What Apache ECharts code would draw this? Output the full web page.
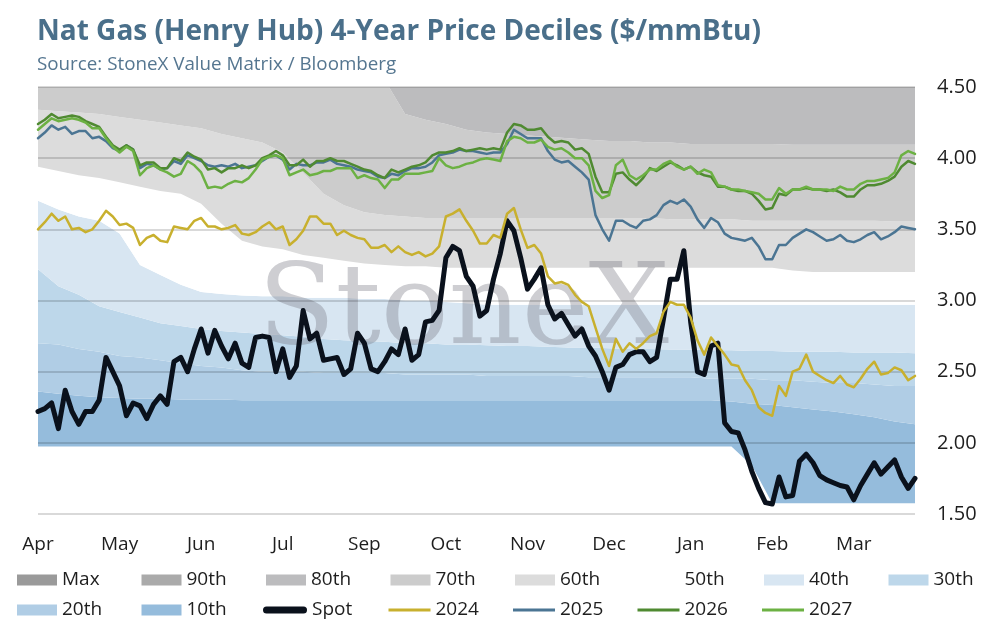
<!DOCTYPE html>
<html><head><meta charset="utf-8">
<script src="https://cdn.jsdelivr.net/npm/echarts@6/dist/echarts.min.js"></script>
<style>html,body{margin:0;padding:0;background:#fff}#c{width:995px;height:625px}</style>
</head><body><div id="c"></div>
<script>
const monthLabels = ['Apr','May','Jun','Jul','Sep','Oct','Nov','Dec','Jan','Feb','Mar'];

const spot = [2.22,2.24,2.28,2.10,2.37,2.22,2.13,2.22,2.22,2.30,
2.60,2.50,2.40,2.19,2.28,2.26,2.17,2.27,2.33,2.27,
2.57,2.60,2.50,2.66,2.80,2.63,2.79,2.68,2.59,2.70,
2.56,2.53,2.74,2.75,2.74,2.50,2.66,2.46,2.54,2.93,
2.73,2.77,2.58,2.59,2.60,2.48,2.52,2.77,2.70,2.52,
2.50,2.57,2.66,2.62,2.80,2.58,2.62,2.85,2.86,2.93,
3.30,3.38,3.35,3.17,3.10,2.89,2.93,3.15,3.33,3.56,
3.49,3.30,3.08,3.15,3.23,2.97,2.87,2.91,2.83,2.75,
2.80,2.68,2.61,2.50,2.37,2.53,2.55,2.62,2.64,2.64,
2.57,2.60,2.87,3.15,3.15,3.35,2.85,2.50,2.48,2.68,
2.70,2.14,2.08,2.07,1.95,1.80,1.68,1.58,1.57,1.76,
1.62,1.63,1.87,1.92,1.86,1.77,1.74,1.72,1.70,1.69,
1.60,1.70,1.78,1.86,1.78,1.83,1.88,1.76,1.68,1.75];

const y2024 = [3.50,3.55,3.61,3.56,3.59,3.50,3.51,3.48,3.50,3.56,
3.63,3.59,3.53,3.54,3.51,3.39,3.44,3.46,3.42,3.41,
3.52,3.51,3.50,3.56,3.58,3.52,3.52,3.50,3.51,3.53,
3.47,3.46,3.48,3.52,3.55,3.50,3.52,3.39,3.43,3.49,
3.59,3.59,3.54,3.54,3.46,3.49,3.46,3.44,3.43,3.37,
3.37,3.39,3.34,3.38,3.34,3.32,3.34,3.31,3.33,3.38,
3.59,3.61,3.64,3.56,3.49,3.40,3.40,3.46,3.44,3.61,
3.65,3.50,3.37,3.39,3.33,3.17,3.12,3.13,3.11,3.04,
2.99,2.96,2.81,2.66,2.54,2.73,2.64,2.70,2.66,2.70,
2.75,2.77,2.92,2.99,2.97,2.97,2.88,2.72,2.62,2.74,
2.68,2.62,2.55,2.54,2.44,2.37,2.25,2.21,2.19,2.40,
2.33,2.50,2.52,2.62,2.50,2.47,2.44,2.42,2.47,2.41,
2.39,2.45,2.52,2.57,2.48,2.49,2.53,2.51,2.44,2.47];

const y2025 = [4.14,4.18,4.23,4.20,4.22,4.17,4.19,4.19,4.14,4.15,
4.12,4.07,4.05,4.09,4.06,3.93,3.96,3.95,3.92,3.93,
3.98,3.96,4.02,4.00,3.98,3.95,3.94,3.95,3.94,3.96,
3.93,3.94,3.95,3.98,4.01,4.02,3.99,3.92,3.96,3.95,
3.95,3.97,3.97,3.99,3.96,3.95,3.94,3.92,3.91,3.90,
3.87,3.86,3.89,3.88,3.91,3.93,3.93,3.94,3.97,4.02,
4.03,4.04,4.06,4.05,4.05,4.04,4.03,4.04,4.04,4.10,
4.20,4.17,4.14,4.14,4.14,4.05,3.99,3.97,3.98,3.94,
3.90,3.85,3.60,3.50,3.42,3.56,3.56,3.53,3.51,3.56,
3.57,3.60,3.67,3.70,3.68,3.71,3.66,3.57,3.51,3.58,
3.55,3.47,3.44,3.43,3.42,3.44,3.38,3.29,3.29,3.39,
3.39,3.44,3.47,3.50,3.48,3.45,3.42,3.43,3.46,3.42,
3.41,3.43,3.46,3.48,3.43,3.45,3.48,3.52,3.51,3.50];

const y2026 = [4.24,4.27,4.31,4.28,4.29,4.30,4.29,4.26,4.24,4.22,
4.15,4.09,4.06,4.09,4.06,3.95,3.97,3.97,3.93,3.93,
4.00,3.98,4.04,4.01,3.99,3.92,3.93,3.90,3.93,3.93,
3.95,3.93,3.95,4.00,4.02,4.05,4.02,3.95,3.95,3.99,
3.94,3.98,3.98,4.00,3.98,3.98,3.96,3.94,3.92,3.91,
3.88,3.86,3.92,3.90,3.92,3.94,3.95,3.97,4.02,4.04,
4.04,4.05,4.07,4.05,4.06,4.07,4.06,4.07,4.06,4.18,
4.24,4.23,4.20,4.20,4.21,4.15,4.11,4.12,4.11,4.06,
4.07,4.03,3.87,3.76,3.76,3.89,3.90,3.85,3.81,3.86,
3.93,3.91,3.94,3.97,3.95,3.92,3.94,3.90,3.88,3.87,
3.80,3.80,3.78,3.77,3.77,3.75,3.70,3.64,3.65,3.75,
3.74,3.78,3.78,3.79,3.78,3.78,3.77,3.78,3.76,3.73,
3.73,3.78,3.81,3.81,3.82,3.84,3.87,3.94,3.98,3.96];

const y2027 = [4.20,4.24,4.28,4.26,4.27,4.28,4.27,4.25,4.21,4.21,
4.14,4.08,4.04,4.08,4.05,3.88,3.93,3.95,3.92,3.90,
3.87,3.89,3.98,3.95,3.90,3.79,3.80,3.79,3.82,3.84,
3.83,3.86,3.92,3.99,4.01,4.02,4.00,3.88,3.90,3.92,
3.88,3.89,3.91,3.91,3.93,3.93,3.93,3.86,3.88,3.86,
3.85,3.79,3.85,3.85,3.89,3.89,3.89,3.90,3.91,4.00,
3.95,3.93,3.94,3.96,3.97,3.99,4.00,3.99,3.98,4.12,
4.15,4.14,4.11,4.11,4.13,4.08,4.06,4.07,4.04,4.00,
4.00,3.95,3.77,3.72,3.74,3.95,3.99,3.88,3.85,3.88,
3.92,3.92,3.96,3.98,3.94,3.92,3.94,3.89,3.92,3.90,
3.81,3.80,3.78,3.78,3.77,3.76,3.75,3.71,3.71,3.79,
3.75,3.78,3.78,3.80,3.78,3.78,3.78,3.77,3.80,3.78,
3.78,3.82,3.84,3.84,3.85,3.86,3.90,4.02,4.05,4.03];

// decile boundaries (sampled every 3rd trading day)
const bandMin = [1.975,1.975,1.975,1.975,1.975,1.975,1.975,1.975,1.975,1.975,
1.975,1.975,1.975,1.975,1.975,1.975,1.975,1.975,1.975,1.975,
1.975,1.975,1.975,1.975,1.975,1.975,1.975,1.975,1.975,1.975,
1.975,1.975,1.975,1.975,1.975,1.84,1.575,1.575,1.575,1.575,
1.575,1.575,1.575,1.575];
const p10 = [2.36,2.345,2.33,2.32,2.315,2.31,2.31,2.305,2.305,2.305,
2.30,2.30,2.30,2.30,2.30,2.30,2.30,2.30,2.30,2.30,
2.30,2.30,2.30,2.30,2.30,2.30,2.30,2.30,2.30,2.30,
2.30,2.30,2.30,2.30,2.29,2.275,2.265,2.25,2.235,2.22,
2.20,2.18,2.15,2.13];
const p20 = [2.70,2.69,2.66,2.64,2.61,2.60,2.58,2.56,2.54,2.53,
2.51,2.50,2.50,2.50,2.49,2.49,2.49,2.49,2.48,2.48,
2.48,2.48,2.47,2.47,2.47,2.47,2.47,2.46,2.46,2.46,
2.46,2.46,2.46,2.45,2.45,2.45,2.44,2.44,2.43,2.42,
2.42,2.41,2.40,2.40];
const p30 = [3.22,3.10,3.04,2.96,2.92,2.88,2.84,2.82,2.80,2.785,
2.775,2.765,2.755,2.745,2.73,2.72,2.715,2.71,2.70,2.70,
2.69,2.69,2.685,2.68,2.68,2.675,2.67,2.67,2.665,2.66,
2.66,2.655,2.655,2.65,2.65,2.645,2.645,2.64,2.64,2.64,
2.635,2.635,2.635,2.63];
const p40 = [3.70,3.64,3.59,3.56,3.47,3.25,3.18,3.11,3.06,3.045,
3.035,3.03,3.03,3.02,3.02,3.02,3.01,3.01,3.00,3.00,
2.99,2.98,2.97,2.97,2.97,2.97,2.97,2.97,2.97,2.97,
2.97,2.97,2.97,2.97,2.97,2.97,2.97,2.97,2.97,2.97,
2.97,2.97,2.97,2.97];
const p50 = [3.94,3.91,3.88,3.86,3.83,3.80,3.77,3.75,3.68,3.54,
3.42,3.38,3.36,3.32,3.30,3.28,3.26,3.25,3.24,3.24,
3.23,3.23,3.23,3.23,3.23,3.23,3.23,3.23,3.23,3.23,
3.23,3.23,3.23,3.23,3.23,3.23,3.23,3.21,3.20,3.20,
3.20,3.20,3.20,3.20];
const p60 = [4.34,4.33,4.32,4.31,4.29,4.27,4.25,4.23,4.21,4.17,
4.14,4.11,4.04,3.90,3.75,3.67,3.62,3.60,3.59,3.58,
3.58,3.58,3.58,3.58,3.58,3.58,3.58,3.58,3.58,3.58,
3.58,3.57,3.57,3.57,3.57,3.56,3.56,3.56,3.56,3.56,
3.56,3.56,3.555,3.555];
const p70 = [4.60,4.60,4.60,4.60,4.60,4.60,4.60,4.60,4.60,4.60,
4.60,4.60,4.60,4.60,4.60,4.60,4.60,4.55,4.31,4.27,
4.24,4.20,4.18,4.17,4.16,4.15,4.14,4.13,4.12,4.12,
4.11,4.11,4.10,4.10,4.10,4.10,4.10,4.095,4.095,4.095,
4.095,4.095,4.095,4.095];
const p80 = [4.80,4.80,4.80,4.80,4.80,4.80,4.80,4.80,4.80,4.80,
4.80,4.80,4.80,4.80,4.80,4.80,4.80,4.80,4.80,4.80,
4.80,4.80,4.80,4.80,4.80,4.80,4.80,4.80,4.80,4.80,
4.80,4.80,4.80,4.80,4.80,4.80,4.80,4.80,4.80,4.80,
4.80,4.80,4.80,4.80];
const p90 = [5.00,5.00,5.00,5.00,5.00,5.00,5.00,5.00,5.00,5.00,
5.00,5.00,5.00,5.00,5.00,5.00,5.00,5.00,5.00,5.00,
5.00,5.00,5.00,5.00,5.00,5.00,5.00,5.00,5.00,5.00,
5.00,5.00,5.00,5.00,5.00,5.00,5.00,5.00,5.00,5.00,
5.00,5.00,5.00,5.00];
const pMax = [5.40,5.40,5.40,5.40,5.40,5.40,5.40,5.40,5.40,5.40,
5.40,5.40,5.40,5.40,5.40,5.40,5.40,5.40,5.40,5.40,
5.40,5.40,5.40,5.40,5.40,5.40,5.40,5.40,5.40,5.40,
5.40,5.40,5.40,5.40,5.40,5.40,5.40,5.40,5.40,5.40,
5.40,5.40,5.40,5.40];

const bandNames = ['10th','20th','30th','40th','50th','60th','70th','80th','90th','Max'];
const bandColors = ['#95bcdc','#b0cde5','#bdd7ea','#d8e6f2','#ffffff','#dcdcdc','#cccccc','#bcbcbe','#aaaaaa','#9a9a9a'];
const lineNames = ['Spot','2024','2025','2026','2027'];
const lineColors = ['#0a111c','#c8b02e','#4b7593','#4f8a31','#6cb143'];
const legendRow1 = ['Max','90th','80th','70th','60th','50th','40th','30th'];
const legendRow2 = ['20th','10th','Spot','2024','2025','2026','2027'];

const FONT = '"Open Sans", Lato, sans-serif';
const levels = [bandMin,p10,p20,p30,p40,p50,p60,p70,p80,p90,pMax];
const lineData = [spot,y2024,y2025,y2026,y2027];

const series = [];
series.push({type:'line', name:'_base', xAxisIndex:1, stack:'b', data: bandMin, symbol:'none',
  lineStyle:{width:0, opacity:0}, silent:true, z:1});
bandNames.forEach((nm,k)=>{
  const lo = levels[k], hi = levels[k+1];
  series.push({type:'line', name:nm, xAxisIndex:1, stack:'b', symbol:'none', silent:true, z:1,
    color: bandColors[k], lineStyle:{width:0, opacity:0},
    areaStyle:{color: bandColors[k], opacity:1},
    data: hi.map((v,j)=> +(v - lo[j]).toFixed(4))});
});
lineNames.forEach((nm,k)=>{
  series.push({type:'line', name:nm, xAxisIndex:0, data: lineData[k], symbol:'none', z:5,
    color: lineColors[k], lineStyle:{width: k===0?5:2.5, color: lineColors[k], cap:'round', join:'round'}});
});

const PILL = 'path://M3.5,0 L40.5,0 A3.5,3.5 0 0 1 40.5,7 L3.5,7 A3.5,3.5 0 0 1 3.5,0 Z';
function legendItem(name, col, rowTop) {
  let left = 17 + 124.5*col, w = 40, h = 11, icon = 'rect';
  if (name === 'Spot') { left -= 3; w = 44; h = 7; icon = PILL; }
  else if (lineNames.indexOf(name) >= 0) { left -= 2; w = 42; h = 3; icon = 'rect'; }
  return {data:[{name:name, icon:icon}], left:left, top:rowTop, padding:0,
    itemWidth:w, itemHeight:h, selectedMode:false,
    textStyle:{fontSize:19, color:'#1e1e1e', fontFamily:FONT}};
}
const legends = legendRow1.map((n,k)=>legendItem(n,k,570.5)).concat(legendRow2.map((n,k)=>legendItem(n,k,600.5)));

const option = {
  animation:false,
  backgroundColor:'#ffffff',
  title:{text:'Nat Gas (Henry Hub) 4-Year Price Deciles ($/mmBtu)',
    subtext:'Source: StoneX Value Matrix / Bloomberg',
    left:32, top:13, itemGap:9,
    textStyle:{fontFamily:FONT, fontSize:28, fontWeight:'bold', color:'#4a6f8a'},
    subtextStyle:{fontFamily:FONT, fontSize:18.8, color:'#557690'}},
  grid:{left:38, right:80, top:87, height:427},
  xAxis:[
    {type:'category', data: spot.map((_,i)=>i), boundaryGap:false,
     axisLine:{show:false}, axisTick:{show:false},
     axisLabel:{interval:11, margin:21, fontSize:19, color:'#1e1e1e', fontFamily:FONT,
       formatter:(v,idx)=> monthLabels[Math.round(idx/12)] || ''},
     splitLine:{show:false}},
    {type:'category', data: bandMin.map((_,j)=>j), boundaryGap:false, show:false}
  ],
  yAxis:{type:'value', position:'right', min:1.5, max:4.5, interval:0.5, z:3,
    axisLine:{show:false}, axisTick:{show:false},
    axisLabel:{margin:22, fontSize:20, color:'#1e1e1e', fontFamily:FONT, formatter:v=>v.toFixed(2)},
    splitLine:{lineStyle:{color:'rgba(0,0,0,0.15)', width:2}}},
  legend: legends,
  graphic:[{type:'text', x:258, y:314, z:2, silent:true,
    style:{text:'StoneX', fontSize:113, fontFamily:'"DejaVu Serif", serif', fill:'rgba(120,120,130,0.36)', verticalAlign:'middle'}}],
  series: series
};
const chart = echarts.init(document.getElementById('c'));
chart.setOption(option);
</script></body></html>
